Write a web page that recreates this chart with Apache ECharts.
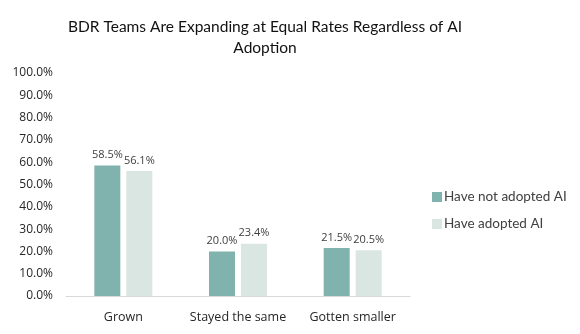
<!DOCTYPE html>
<html>
<head>
<meta charset="utf-8">
<script src="https://cdn.jsdelivr.net/npm/echarts@6/dist/echarts.min.js"></script>
<style>
  html, body { margin: 0; padding: 0; background: #fff; }
  #chart { width: 580px; height: 334px; }
</style>
</head>
<body>
<div id="chart"></div>
<script>
// Survey answers, in percent
const categories = ['Grown', 'Stayed the same', 'Gotten smaller'];
const notAdopted = [58.5, 20.0, 21.5];
const adopted = [56.1, 23.4, 20.5];
const seriesNames = ['Have not adopted AI', 'Have adopted AI'];
const yTicks = [0, 10, 20, 30, 40, 50, 60, 70, 80, 90, 100];

const labelFont = '"Open Sans", "Noto Sans", sans-serif';
const titleFont = 'Lato, "Open Sans", sans-serif';

const chart = echarts.init(document.getElementById('chart'));

function barLabel() {
  return {
    show: true,
    position: 'top',
    distance: 5,
    color: '#404040',
    fontFamily: labelFont,
    fontSize: 11,
    formatter: p => p.value.toFixed(1) + '%'
  };
}

chart.setOption({
  animation: false,
  title: {
    text: 'BDR Teams Are Expanding at Equal Rates Regardless of AI\nAdoption',
    left: 260,
    textAlign: 'center',
    top: 11,
    textStyle: {
      fontFamily: titleFont,
      fontWeight: 'normal',
      fontSize: 15.5,
      lineHeight: 21,
      color: '#111111'
    }
  },
  legend: {
    orient: 'vertical',
    left: 427,
    top: 185,
    itemWidth: 10,
    itemHeight: 10,
    itemGap: 13,
    icon: 'rect',
    data: seriesNames,
    textStyle: {
      fontFamily: titleFont,
      fontSize: 13.5,
      color: '#404040',
      padding: [0, 0, 0, -3]
    }
  },
  grid: {
    left: 66,
    top: 73,
    width: 344,
    height: 223
  },
  xAxis: {
    type: 'category',
    data: categories,
    axisLine: { lineStyle: { color: '#d9d9d9', width: 1 } },
    axisTick: { show: false },
    axisLabel: {
      interval: 0,
      margin: 15,
      color: '#262626',
      fontFamily: labelFont,
      fontSize: 12.5
    }
  },
  yAxis: {
    type: 'value',
    min: yTicks[0],
    max: yTicks[yTicks.length - 1],
    interval: yTicks[1] - yTicks[0],
    splitLine: { show: false },
    axisLine: { show: false },
    axisTick: { show: false },
    axisLabel: {
      margin: 13,
      color: '#262626',
      fontFamily: labelFont,
      fontSize: 12,
      formatter: v => v.toFixed(1) + '%'
    }
  },
  series: [
    {
      name: seriesNames[0],
      type: 'bar',
      data: notAdopted,
      barWidth: 26,
      barGap: '23%',
      itemStyle: { color: '#80b2ae' },
      label: barLabel()
    },
    {
      name: seriesNames[1],
      type: 'bar',
      data: adopted,
      barWidth: 26,
      barGap: '23%',
      itemStyle: { color: '#d9e6e2' },
      label: barLabel()
    }
  ]
});
</script>
</body>
</html>
